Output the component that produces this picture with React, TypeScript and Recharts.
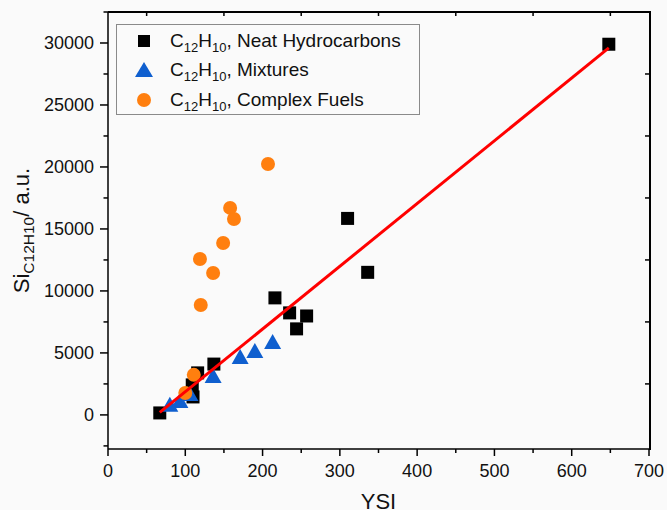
import React from "react";
import { Legend, ReferenceLine, Scatter, ScatterChart, XAxis, YAxis } from "recharts";

// values
const neatYsi = [67, 109, 110, 116, 137, 216, 235, 244, 257, 310, 336, 648];
const neatSi = [160, 2420, 1450, 3390, 4100, 9440, 8230, 6940, 7980, 15850, 11500, 29900];

const mixYsi = [80, 93, 106, 136, 171, 190, 213];
const mixSi = [730, 1050, 1610, 3060, 4600, 5080, 5800];

const fuelYsi = [100, 111, 119, 120, 136, 149, 158, 163, 207];
const fuelSi = [1770, 3230, 12580, 8870, 11450, 13870, 16700, 15800, 20240];

const fitYsi = [67, 648];
const fitSi = [200, 29600];

const legendNames = ["Neat Hydrocarbons", "Mixtures", "Complex Fuels"];

const xTicks = [0, 50, 100, 150, 200, 250, 300, 350, 400, 450, 500, 550, 600, 650, 700];
const yTicks = [-2500, 0, 2500, 5000, 7500, 10000, 12500, 15000, 17500, 20000, 22500, 25000, 27500, 30000, 32500];
const topTicks = [50, 150, 250, 350, 450, 550, 650];
const rightTicks = [2500, 7500, 12500, 17500, 22500, 27500];

const FONT = "Arial, 'Liberation Sans', sans-serif";
const BLUE = "#0f5fcf";
const ORANGE = "#ff7f0f";

const toPoints = (xs: number[], ys: number[]) => xs.map((x, i) => ({ x, y: ys[i] }));

const Square = (p: any) => <rect x={p.cx - 6.5} y={p.cy - 6.5} width={13} height={13} fill="#000" />;
const Triangle = (p: any) => (
  <polygon
    points={`${p.cx},${p.cy - 9} ${p.cx - 8.5},${p.cy + 6} ${p.cx + 8.5},${p.cy + 6}`}
    fill={BLUE}
  />
);
const Dot = (p: any) => <circle cx={p.cx} cy={p.cy} r={7} fill={ORANGE} />;

const BottomTick = ({ x, y, payload }: any) => {
  const major = payload.value % 100 === 0;
  return (
    <g>
      <line x1={x} x2={x} y1={y} y2={y + (major ? 7 : 4)} stroke="#000" strokeWidth={1.5} />
      {major && (
        <text x={x} y={y + 28} textAnchor="middle" fontSize={18} fontFamily={FONT} fill="#111">
          {payload.value}
        </text>
      )}
    </g>
  );
};

const LeftTick = ({ x, y, payload }: any) => {
  const major = payload.value % 5000 === 0;
  return (
    <g>
      <line x1={x} x2={x - (major ? 8 : 4.5)} y1={y} y2={y} stroke="#000" strokeWidth={1.5} />
      {major && (
        <text x={x - 14} y={y} dy="0.36em" textAnchor="end" fontSize={18} fontFamily={FONT} fill="#111">
          {payload.value}
        </text>
      )}
    </g>
  );
};

// short tick marks on the top and right frame, drawn from reference lines
const topTickShape = (p: any) => {
  const top = Math.min(p.y1, p.y2);
  return <line x1={p.x1} x2={p.x1} y1={top} y2={top + 4} stroke="#000" strokeWidth={1.5} />;
};
const rightTickShape = (p: any) => {
  const right = Math.max(p.x1, p.x2);
  return <line x1={right} x2={right - 4} y1={p.y1} y2={p.y1} stroke="#000" strokeWidth={1.5} />;
};

const sub = { fontSize: 13, position: "relative" as const, top: 5 };

const markers = [
  <svg width={16} height={16}><rect x={2} y={2} width={12} height={12} fill="#000" /></svg>,
  <svg width={18} height={16}><polygon points="9,0 0,15 18,15" fill={BLUE} /></svg>,
  <svg width={16} height={16}><circle cx={8} cy={8} r={7} fill={ORANGE} /></svg>,
];

const LegendBox = () => (
  <div
    style={{
      width: 304,
      height: 91,
      border: "1px solid #8a8a8a",
      background: "#fafafa",
      fontFamily: FONT,
      fontSize: 19,
      color: "#111",
      boxSizing: "border-box",
      paddingTop: 1,
    }}
  >
    {legendNames.map((name, i) => (
      <div key={name} style={{ display: "flex", alignItems: "center", height: 29.5, whiteSpace: "pre" }}>
        <div style={{ width: 53, display: "flex", justifyContent: "center" }}>{markers[i]}</div>
        <span>
          C<span style={sub}>12</span>H<span style={sub}>10</span>, {name}
        </span>
      </div>
    ))}
  </div>
);

export default function App() {
  return (
    <div style={{ position: "absolute", left: 0, top: 0, width: 667, height: 510, background: "#fafafa", overflow: "hidden" }}>
      <ScatterChart width={667} height={510} margin={{ top: 12, right: 18, bottom: 0, left: 0 }}>
        <XAxis
          type="number"
          dataKey="x"
          domain={[0, 700]}
          ticks={xTicks}
          interval={0}
          height={61}
          tickSize={0}
          tickMargin={0}
          tickLine={false}
          tick={<BottomTick />}
          axisLine={{ stroke: "#000", strokeWidth: 1.5 }}
          allowDataOverflow
        />
        <YAxis
          type="number"
          dataKey="y"
          domain={[-2750, 32500]}
          ticks={yTicks}
          interval={0}
          width={108}
          tickSize={0}
          tickMargin={0}
          tickLine={false}
          tick={<LeftTick />}
          axisLine={{ stroke: "#000", strokeWidth: 1.5 }}
          allowDataOverflow
          label={{
            content: (props: any) => {
              const vb = props.viewBox;
              const cy = vb.y + vb.height / 2;
              return (
                <text
                  x={cy}
                  y={0}
                  transform={`translate(29, 0) rotate(-90, 0, 0) translate(${-2 * cy}, 0)`}
                  textAnchor="middle"
                  fontSize={22}
                  fontFamily={FONT}
                  fill="#111"
                >
                  Si
                  <tspan fontSize={15.5} dy={5}>C12H10</tspan>
                  <tspan dy={-5}>/ a.u.</tspan>
                </text>
              );
            },
          }}
        />
        {topTicks.map((v) => (
          <ReferenceLine key={"t" + v} x={v} ifOverflow="visible" shape={topTickShape} />
        ))}
        {rightTicks.map((v) => (
          <ReferenceLine key={"r" + v} y={v} ifOverflow="visible" shape={rightTickShape} />
        ))}
        <Legend
          layout="vertical"
          align="center"
          verticalAlign="middle"
          content={<LegendBox />}
          wrapperStyle={{ left: 116, top: 24, width: 304 }}
        />
        <Scatter name="Neat" data={toPoints(neatYsi, neatSi)} shape={Square} isAnimationActive={false} />
        <Scatter name="Mixtures" data={toPoints(mixYsi, mixSi)} shape={Triangle} isAnimationActive={false} />
        <Scatter name="Complex" data={toPoints(fuelYsi, fuelSi)} shape={Dot} isAnimationActive={false} />
        <Scatter
          name="Fit"
          data={toPoints(fitYsi, fitSi)}
          line={{ stroke: "#ff0000", strokeWidth: 3 }}
          shape={() => <g />}
          legendType="none"
          isAnimationActive={false}
        />
      </ScatterChart>
      {/* top and right edges of the plot frame */}
      <div
        style={{
          position: "absolute",
          left: 108,
          top: 11,
          width: 543,
          height: 439,
          borderTop: "2px solid #000",
          borderRight: "2px solid #000",
          boxSizing: "border-box",
          pointerEvents: "none",
          zIndex: 5,
        }}
      />
      <div
        style={{
          position: "absolute",
          left: 108,
          width: 541,
          top: 489,
          textAlign: "center",
          fontFamily: FONT,
          fontSize: 22,
          color: "#111",
        }}
      >
        YSI
      </div>
    </div>
  );
}
